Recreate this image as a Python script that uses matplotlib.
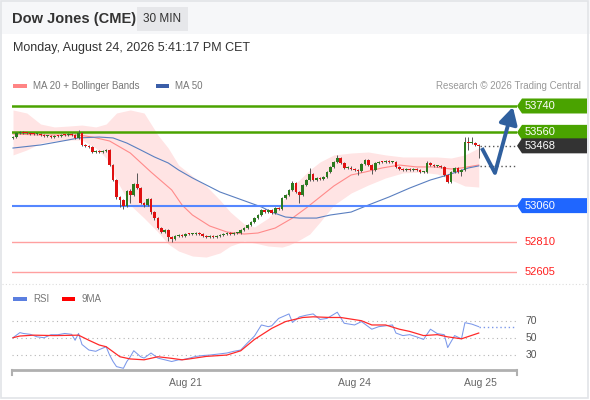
import matplotlib
matplotlib.use('Agg')
import matplotlib.pyplot as plt
from matplotlib.patches import Rectangle, Polygon
from matplotlib.transforms import IdentityTransform, blended_transform_factory
import numpy as np

plt.rcParams['font.family'] = ['Liberation Sans', 'DejaVu Sans']

# ---- price data (30 min candles) ----
first_open = 53522
closes = [53528, 53556, 53563, 53556, 53553, 53549, 53546, 53549, 53542, 53535,
          53537, 53528, 53535, 53533, 53542, 53540, 53549, 53542, 53522, 53556,
          53474, 53467, 53460, 53426, 53433, 53426, 53433, 53440, 53337, 53235,
          53119, 53098, 53057, 53160, 53132, 53208, 53180, 53078, 53064, 53105,
          53016, 52975, 52908, 52880, 52894, 52846, 52832, 52853, 52859, 52853,
          52866, 52864, 52868, 52873, 52866, 52853, 52846, 52853, 52846, 52853,
          52859, 52866, 52873, 52866, 52873, 52875, 52894, 52908, 52928, 52948,
          52975, 52996, 53030, 53016, 53030, 53010, 53044, 53037, 53112, 53132,
          53167, 53214, 53153, 53132, 53201, 53235, 53276, 53235, 53249, 53242,
          53255, 53289, 53324, 53358, 53385, 53351, 53317, 53320, 53310, 53303,
          53296, 53344, 53371, 53337, 53303, 53351, 53358, 53356, 53365, 53358,
          53360, 53324, 53310, 53303, 53310, 53303, 53310, 53305, 53289, 53292,
          53351, 53337, 53330, 53332, 53324, 53269, 53221, 53289, 53317, 53289,
          53303, 53494, 53487, 53490, 53474, 53468]
highs = [53535, 53563, 53570, 53570, 53563, 53560, 53556, 53556, 53556, 53549,
         53544, 53544, 53542, 53542, 53549, 53549, 53556, 53556, 53549, 53576,
         53563, 53481, 53474, 53467, 53440, 53440, 53440, 53447, 53447, 53344,
         53242, 53126, 53105, 53167, 53175, 53215, 53283, 53187, 53085, 53115,
         53112, 53023, 52982, 52915, 52901, 52901, 52853, 52860, 52866, 52866,
         52873, 52873, 52875, 52880, 52880, 52873, 52860, 52860, 52860, 52860,
         52866, 52873, 52880, 52880, 52880, 52882, 52901, 52915, 52935, 52955,
         52982, 53003, 53037, 53037, 53040, 53037, 53051, 53051, 53119, 53139,
         53174, 53228, 53221, 53160, 53208, 53242, 53317, 53283, 53256, 53256,
         53262, 53296, 53331, 53365, 53406, 53392, 53358, 53327, 53327, 53317,
         53310, 53351, 53378, 53378, 53344, 53358, 53365, 53365, 53372, 53372,
         53367, 53367, 53331, 53317, 53317, 53317, 53317, 53317, 53312, 53299,
         53365, 53358, 53344, 53339, 53339, 53331, 53276, 53296, 53324, 53324,
         53310, 53528, 53528, 53528, 53497, 53481]
lows = [53515, 53522, 53550, 53550, 53546, 53542, 53540, 53540, 53535, 53528,
        53528, 53521, 53521, 53526, 53526, 53533, 53533, 53535, 53515, 53515,
        53467, 53460, 53450, 53419, 53419, 53419, 53419, 53426, 53330, 53225,
        53105, 53051, 53037, 53050, 53078, 53125, 53170, 53070, 53050, 53057,
        53005, 52965, 52900, 52870, 52873, 52818, 52812, 52825, 52846, 52846,
        52846, 52857, 52857, 52861, 52859, 52846, 52839, 52839, 52839, 52839,
        52846, 52852, 52859, 52859, 52859, 52866, 52868, 52887, 52901, 52921,
        52941, 52968, 52989, 53009, 53009, 53003, 53003, 53030, 53030, 53105,
        53125, 53160, 53146, 53078, 53125, 53194, 53228, 53228, 53228, 53235,
        53235, 53248, 53282, 53317, 53351, 53344, 53310, 53310, 53303, 53296,
        53269, 53289, 53337, 53330, 53276, 53296, 53344, 53349, 53349, 53351,
        53351, 53317, 53303, 53296, 53296, 53296, 53296, 53298, 53282, 53282,
        53285, 53330, 53323, 53323, 53317, 53262, 53214, 53214, 53282, 53282,
        53262, 53296, 53440, 53480, 53467, 53385]

ma20_idx = [0, 8, 19, 23, 28, 34, 40, 46, 49, 52, 57, 62, 67, 71, 76, 81, 85,
            89, 93, 98, 102, 107, 112, 117, 122, 127, 130, 135]
ma20 = [53549, 53542, 53542, 53528, 53501, 53419, 53289, 53167, 53064, 52996,
        52921, 52880, 52866, 52873, 52907, 52975, 53044, 53119, 53194, 53269,
        53289, 53317, 53337, 53324, 53324, 53310, 53317, 53337]

band_idx = [0, 4, 8, 12, 16, 20, 24, 27, 30, 34, 38, 42, 45, 48, 52, 56, 60,
            63, 67, 70, 74, 78, 80, 83, 86, 89, 93, 98, 103, 108, 113, 118,
            123, 127, 131, 135]
bb_upper = [53713, 53692, 53617, 53597, 53603, 53610, 53597, 53617, 53692,
            53713, 53692, 53542, 53453, 53337, 53262, 53194, 53098, 53016,
            52935, 52914, 52975, 53085, 53167, 53235, 53303, 53358, 53406,
            53419, 53426, 53406, 53392, 53392, 53392, 53385, 53406, 53453]
bb_lower = [53406, 53440, 53487, 53501, 53508, 53508, 53453, 53385, 53235,
            53064, 52975, 52880, 52798, 52750, 52716, 52709, 52737, 52784,
            52818, 52805, 52784, 52777, 52791, 52825, 52866, 52948, 53064,
            53146, 53201, 53249, 53283, 53289, 53276, 53235, 53194, 53187]

ma50_idx = [0, 8, 16, 19, 25, 29, 33, 37, 41, 45, 48, 52, 56, 60, 64, 68, 72,
            75, 79, 83, 88, 92, 98, 103, 109, 115, 121, 126, 132, 135]
ma50 = [53453, 53474, 53508, 53522, 53528, 53522, 53487, 53440, 53392, 53351,
        53303, 53249, 53201, 53153, 53119, 53085, 53051, 53016, 52982, 52975,
        52975, 52996, 53016, 53064, 53119, 53180, 53235, 53269, 53317, 53331]

resistances = [53740, 53560]
last_price = 53468
supports = [53060, 52810, 52605]

# ---- RSI ----
rsi_idx = [0, 2, 3, 5, 7, 9, 11, 13, 15, 17, 18, 19, 20, 22, 24, 25, 27, 28,
           29, 30, 32, 33, 34, 35, 37, 38, 40, 42, 44, 46, 48, 49, 51, 53, 55,
           57, 60, 62, 64, 66, 68, 70, 72, 74, 75, 77, 80, 81, 83, 85, 87, 89,
           91, 94, 96, 99, 101, 104, 106, 110, 111, 113, 115, 117, 119, 121,
           123, 125, 126, 128, 130, 131, 133, 135]
rsi = [50, 56, 55, 54, 51, 50, 53.5, 53.5, 55, 54, 47, 55, 42, 35.5, 34, 36,
       39.4, 29.6, 22, 16, 14, 22, 27.6, 34.7, 27.6, 26, 32, 26, 24, 22, 24,
       24, 25.8, 28, 29, 29.6, 31, 32, 34, 35.5, 44, 52, 65, 63, 64, 72.7, 78,
       68, 74.5, 76.5, 78, 71.5, 72.7, 80, 67, 65, 69, 60, 63, 65, 55.5, 52.5,
       53.6, 51, 48, 60, 54.8, 53.6, 38.4, 52.5, 48.7, 67.7, 66, 63]
rsi_ma_idx = [0, 2, 6, 12, 19, 22, 25, 27, 29, 31, 34, 38, 42, 46, 49, 51, 56,
              62, 66, 70, 75, 79, 84, 87, 92, 95, 101, 104, 108, 112, 115, 119,
              123, 126, 130, 135]
rsi_ma = [50, 52, 53, 52.5, 53, 47, 41.4, 39.4, 33.5, 27.6, 25, 24, 27.6,
          25.7, 24, 25, 28, 29.6, 34.6, 48, 61, 69, 73.8, 74.6, 73.8, 73.8, 70,
          65, 65, 60, 57.4, 52.5, 53.6, 51, 48.7, 55.5]
rsi_levels = [70, 50, 30]

date_ticks = [50, 99, 135.5]
date_labels = ['Aug 21', 'Aug 24', 'Aug 25']

W, H = 590, 400
fig = plt.figure(figsize=(W / 100, H / 100), dpi=100, facecolor='white')


def fx(px):
    return px / W


def fy(py):
    return 1 - py / H


# header band + frame
fig.add_artist(Rectangle((0, fy(34)), 1, 34 / H, transform=fig.transFigure,
                         facecolor='#f6f7f9', edgecolor='none', zorder=0))
fig.add_artist(Rectangle((fx(1), fy(398)), fx(587), 397 / H, transform=fig.transFigure,
                         facecolor='none', edgecolor='#e2e4e8', lw=1.2, zorder=0))
fig.add_artist(Rectangle((fx(137), fy(31)), fx(51), 24 / H, transform=fig.transFigure,
                         facecolor='#e6e7ea', edgecolor='none'))
fig.text(fx(12), fy(19), 'Dow Jones (CME)', fontsize=10.5, fontweight='bold',
         color='#333333', va='center')
fig.text(fx(162.5), fy(19), '30 MIN', fontsize=8.5, color='#333333',
         va='center', ha='center')
fig.text(fx(13), fy(48), 'Monday, August 24, 2026 5:41:17 PM CET', fontsize=9,
         color='#333333', va='center')

# legends
fig.add_artist(Rectangle((fx(13), fy(88)), fx(14), 4 / H, transform=fig.transFigure,
                         facecolor='#ff8484', edgecolor='none'))
fig.text(fx(33), fy(86), 'MA 20 + Bollinger Bands', fontsize=7, color='#777777', va='center')
fig.add_artist(Rectangle((fx(156), fy(88)), fx(13), 4 / H, transform=fig.transFigure,
                         facecolor='#3b5ea8', edgecolor='none'))
fig.text(fx(175), fy(86), 'MA 50', fontsize=7, color='#777777', va='center')
fig.text(fx(581), fy(86), 'Research \u00a9 2026 Trading Central', fontsize=7,
         color='#999999', va='center', ha='right')

fig.add_artist(Rectangle((fx(13), fy(301)), fx(14), 4 / H, transform=fig.transFigure,
                         facecolor='#5b7fe0', edgecolor='none'))
fig.text(fx(33), fy(299), 'RSI', fontsize=7, color='#777777', va='center')
fig.add_artist(Rectangle((fx(62), fy(301)), fx(13), 4 / H, transform=fig.transFigure,
                         facecolor='#ff0000', edgecolor='none'))
fig.text(fx(82), fy(299), '9MA', fontsize=7, color='#777777', va='center')

# panel separator
fig.add_artist(plt.Line2D([fx(2), fx(588)], [fy(284), fy(284)], transform=fig.transFigure,
                          color='#dddddd', lw=0.8, ls=(0, (1, 2))))

x_left, x_right = -0.29, 146.09

# ---- main price panel ----
ax = fig.add_axes([fx(12), fy(284), fx(505), 189 / H])
ax.set_xlim(x_left, x_right)
ax.set_ylim(52525, 53815)
ax.axis('off')

ax.fill_between(band_idx, bb_lower, bb_upper, color='#ffe4e4', lw=0, zorder=1)
ax.plot(ma20_idx, ma20, color='#ff8a8a', lw=0.8, zorder=2)
ax.plot(ma50_idx, ma50, color='#5a7fc0', lw=0.8, zorder=2)

for lv in resistances:
    ax.axhline(lv, color='#4aa300', lw=1.8, zorder=3)
ax.axhline(supports[0], color='#5587ff', lw=1.5, zorder=3)
for lv in supports[1:]:
    ax.axhline(lv, color='#ffa0a0', lw=1.0, zorder=3)

idx = np.arange(len(closes))
opens = np.array([first_open] + closes[:-1])
closes_a = np.array(closes)
body_lo = np.minimum(opens, closes_a)
body_h = np.maximum(np.abs(closes_a - opens), 8)
cols = np.where(closes_a >= opens, '#2b7a1f', '#e01010')
ax.vlines(idx, lows, highs, color='#555555', lw=0.7, zorder=4)
ax.bar(idx, body_h, bottom=body_lo, width=0.78, color=cols, lw=0, zorder=5)

ax.plot([idx[-1] + 0.5, x_right], [last_price, last_price], color='#555555',
        lw=1, ls=(0, (1, 2)), zorder=3)
ax.plot([idx[-1] + 0.5, x_right], [ma50[-1], ma50[-1]], color='#555555',
        lw=1, ls=(0, (1, 2)), zorder=3)

# forecast arrow
arrow_col = '#2f5f9e'
ax.plot([135.9, 139.7], [53453, 53283], color=arrow_col, lw=2.8,
        solid_capstyle='butt', zorder=6, clip_on=False)
ax.annotate('', xy=(144.9, 53733), xytext=(139.7, 53283),
            arrowprops=dict(arrowstyle='-|>,head_width=0.55,head_length=1.0',
                            color=arrow_col, lw=2.8, shrinkA=0, shrinkB=0),
            zorder=6, annotation_clip=False)


def level_tag(price, text, color, boxed=True):
    xr = ax.transAxes.transform((1, 0))[0]
    y = ax.transData.transform((0, price))[1]
    if boxed:
        pts = [(xr, y), (xr + 5, y + 7.5), (xr + 70, y + 7.5),
               (xr + 70, y - 7.5), (xr + 5, y - 7.5)]
        fig.add_artist(Polygon(pts, closed=True, facecolor=color, edgecolor='none',
                               transform=IdentityTransform()))
        fig.text(xr + 8, y, text, color='white', fontsize=8, va='center',
                 transform=IdentityTransform())
    else:
        fig.text(xr + 8, y, text, color=color, fontsize=8, va='center',
                 transform=IdentityTransform())


for lv in resistances:
    level_tag(lv, str(lv), '#4aa300')
level_tag(last_price, str(last_price), '#333333')
level_tag(supports[0], str(supports[0]), '#1f66ff')
for lv in supports[1:]:
    level_tag(lv, str(lv), '#ff2020', boxed=False)

# ---- RSI panel ----
ax2 = fig.add_axes([fx(12), fy(370), fx(505), 65 / H])
ax2.set_xlim(x_left, x_right)
ax2.set_ylim(12, 88.5)
for s in ax2.spines.values():
    s.set_visible(False)
ax2.set_yticks([])
for lv in rsi_levels:
    ax2.axhline(lv, color='#b5b5b5', lw=0.8, ls=(0, (1, 3)))
ax2.plot(rsi_idx, rsi, color='#7b98ea', lw=0.75)
ax2.plot(rsi_ma_idx, rsi_ma, color='#ff2a2a', lw=0.9)
ax2.plot([rsi_idx[-1], x_right - 0.5], [rsi[-1], rsi[-1]], color='#7b98ea',
         lw=1, ls=(0, (1, 2)))
tr = blended_transform_factory(ax2.transAxes, ax2.transData)
for lv in rsi_levels:
    ax2.text((531 - 12) / 505, lv, str(lv), transform=tr, fontsize=7.5,
             color='#555555', ha='center', va='center')

ax2.plot([0, 1], [0, 0], transform=ax2.transAxes, color='#b0b0b0', lw=2,
         clip_on=False, solid_capstyle='butt')
for xe in (0, 1):
    ax2.plot([xe, xe], [0, -5 / 65], transform=ax2.transAxes, color='#b0b0b0',
             lw=1.5, clip_on=False)
ax2.set_xticks(date_ticks)
ax2.set_xticklabels(date_labels, fontsize=7.5, color='#666666')
ax2.tick_params(axis='x', length=0, pad=6)

fig.savefig('out.png', dpi=100, facecolor='white')
